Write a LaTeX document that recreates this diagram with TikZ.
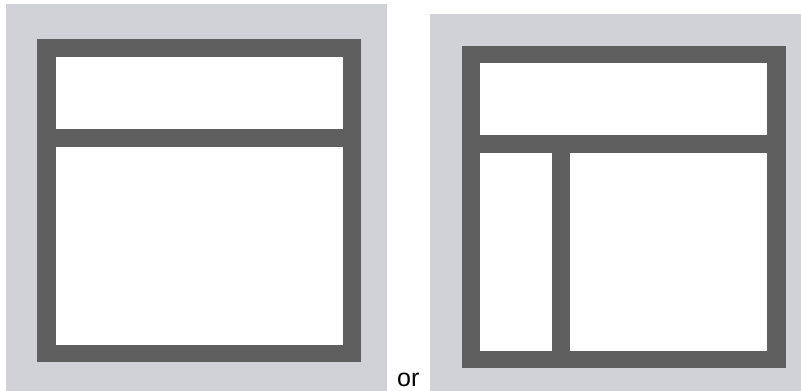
\documentclass[tikz,border=0pt]{standalone}
\usepackage{fontspec}
\setmainfont{Liberation Sans}
\definecolor{panelbg}{HTML}{D1D2D7}
\definecolor{framecol}{HTML}{5F5F5F}
\tikzset{
  panel/.style={fill=panelbg, draw=none},
  frame/.style={fill=framecol, draw=none},
  pane/.style={fill=white, draw=none}
}
\begin{document}
\begin{tikzpicture}[x=1pt,y=-1pt]
\useasboundingbox (0,0) rectangle (801,391);
\fill[white] (0,0) rectangle (801,391);
% left panel
\path[panel] (6,4) rectangle (387,391);
\path[frame] (37,39) rectangle (361,362);
\path[pane] (56,57) rectangle (343,129);
\path[pane] (56,147) rectangle (343,345);
% right panel
\path[panel] (430,14) rectangle (801,391);
\path[frame] (462,46) rectangle (786,368);
\path[pane] (480,63) rectangle (767,135);
\path[pane] (480,153) rectangle (552,351);
\path[pane] (570,153) rectangle (767,351);
% text
\node[anchor=base west, inner sep=0pt, font=\fontsize{25}{30}\selectfont] (or) at (397,386) {or};
\end{tikzpicture}
\end{document}
